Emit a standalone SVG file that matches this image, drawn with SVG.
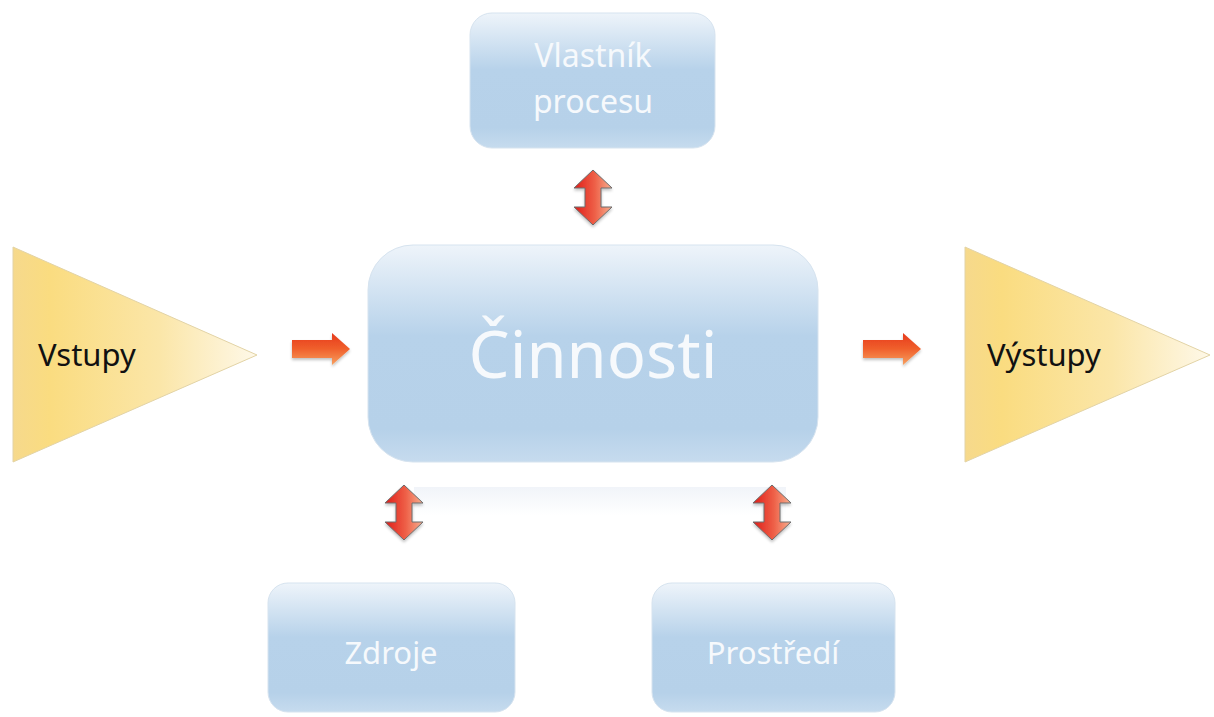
<svg xmlns="http://www.w3.org/2000/svg" width="1214" height="717" viewBox="0 0 1214 717">
  <defs>
    <linearGradient id="boxFill" x1="0" y1="0" x2="0" y2="1">
      <stop offset="0" stop-color="#eef4fa"/>
      <stop offset="0.42" stop-color="#b7d2ea"/>
      <stop offset="0.85" stop-color="#b6d1e9"/>
      <stop offset="1" stop-color="#c6dbee"/>
    </linearGradient>
    <linearGradient id="triFill" x1="0" y1="0" x2="1" y2="0">
      <stop offset="0" stop-color="#f6d98c"/>
      <stop offset="0.15" stop-color="#fadc80"/>
      <stop offset="0.6" stop-color="#fbe6a8"/>
      <stop offset="1" stop-color="#fef8e8"/>
    </linearGradient>
    <linearGradient id="dblFill" x1="0" y1="0" x2="1" y2="0">
      <stop offset="0" stop-color="#e01c18"/>
      <stop offset="0.55" stop-color="#ee6048"/>
      <stop offset="1" stop-color="#f7b090"/>
    </linearGradient>
    <linearGradient id="rightFill" x1="0" y1="0" x2="0" y2="1">
      <stop offset="0" stop-color="#e63a1c"/>
      <stop offset="0.5" stop-color="#f0602c"/>
      <stop offset="1" stop-color="#f7a060"/>
    </linearGradient>
    <linearGradient id="reflect" x1="0" y1="0" x2="0" y2="1">
      <stop offset="0" stop-color="#f1f4f9"/>
      <stop offset="1" stop-color="#ffffff"/>
    </linearGradient>
    <filter id="soft" x="-20%" y="-20%" width="140%" height="140%">
      <feGaussianBlur in="SourceAlpha" stdDeviation="1.5"/>
      <feOffset dx="0" dy="1.5"/>
      <feComponentTransfer><feFuncA type="linear" slope="0.25"/></feComponentTransfer>
      <feMerge><feMergeNode/><feMergeNode in="SourceGraphic"/></feMerge>
    </filter>
    <!-- vertical two-headed arrow centred on x=0, spanning y 0..55 -->
    <path id="dbl" d="M0,0 L19,18 L8,18 L8,37 L19,37 L0,55 L-19,37 L-8,37 L-8,18 L-19,18 Z"/>
    <!-- horizontal block arrow, spanning x 0..58, y 0..32 -->
    <path id="blk" d="M0,7 L40,7 L40,0 L58,16 L40,32 L40,25 L0,25 Z"/>
  </defs>
  <style>
    .box { fill: url(#boxFill); stroke: #d6e3ef; stroke-width: 1; }
    .tri { fill: url(#triFill); stroke: #e2d3a6; stroke-width: 1; }
    .lbl { font-family: "Noto Sans", "Open Sans", sans-serif; fill: #f6f9fc; text-anchor: middle; }
    .dark { font-family: "Noto Sans", "Open Sans", sans-serif; fill: #111111; }
    .dbl { fill: url(#dblFill); stroke: #6c6c6c; stroke-width: 1; }
    .blk { fill: url(#rightFill); }
  </style>

  <rect width="1214" height="717" fill="#ffffff"/>

  <!-- faint reflection under the central box -->
  <rect x="414" y="487" width="372" height="28" fill="url(#reflect)"/>

  <g id="vlastnik">
    <rect class="box" x="470" y="13" width="245" height="135" rx="22"/>
    <text class="lbl" x="593" y="67" font-size="32">Vlastník</text>
    <text class="lbl" x="593" y="113" font-size="32">procesu</text>
  </g>

  <g id="vstupy">
    <polygon class="tri" points="13,247 257,355 13,462"/>
    <text class="dark" x="38" y="366" font-size="31">Vstupy</text>
  </g>

  <g id="cinnosti">
    <rect class="box" x="368" y="245" width="450" height="217" rx="45"/>
    <text class="lbl" x="593" y="378" font-size="65">Činnosti</text>
  </g>

  <g id="vystupy">
    <polygon class="tri" points="965,247 1210,355 965,462"/>
    <text class="dark" x="987" y="366" font-size="31">Výstupy</text>
  </g>

  <g id="zdroje">
    <rect class="box" x="268" y="583" width="247" height="129" rx="20"/>
    <text class="lbl" x="391" y="664" font-size="31">Zdroje</text>
  </g>

  <g id="prostredi">
    <rect class="box" x="652" y="583" width="243" height="129" rx="20"/>
    <text class="lbl" x="773" y="664" font-size="31">Prostředí</text>
  </g>

  <g id="connectors" filter="url(#soft)">
    <use href="#dbl" class="dbl" transform="translate(593,170)"/>
    <use href="#dbl" class="dbl" transform="translate(404,485)"/>
    <use href="#dbl" class="dbl" transform="translate(772,485)"/>
    <use href="#blk" class="blk" transform="translate(292,333)"/>
    <use href="#blk" class="blk" transform="translate(863,333)"/>
  </g>
</svg>
